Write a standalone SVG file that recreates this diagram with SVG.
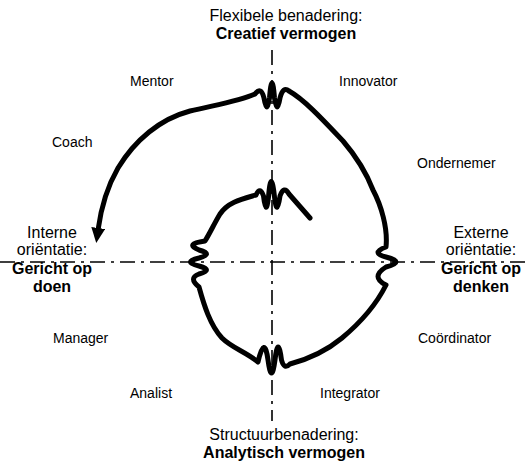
<svg xmlns="http://www.w3.org/2000/svg" width="531" height="464" viewBox="0 0 531 464">
<style>
text{font-family:"Liberation Sans",Arial,sans-serif;fill:#000}
.ax{font-size:16px;text-anchor:middle}
.b{font-weight:bold}
.role{font-size:14px}
.axis{stroke:#000;stroke-width:1.6;stroke-dasharray:15,6,3,6;fill:none}
.spiral{stroke:#000;stroke-width:5;fill:none;stroke-linejoin:round;stroke-linecap:round}
</style>
<defs>
<marker id="arrow" viewBox="0 0 15 14" refX="2" refY="7" markerWidth="15" markerHeight="14" markerUnits="userSpaceOnUse" orient="auto">
<path d="M0,0 L15,7 L0,14 z" fill="#000"/>
</marker>
</defs>
<rect width="531" height="464" fill="#fff"/>
<g id="connectors">
<line class="axis" x1="272" y1="50" x2="272" y2="421"/>
<line class="axis" x1="0" y1="262" x2="531" y2="262"/>
<path class="spiral" marker-end="url(#arrow)" d="M 310,218 L 289,194 Q 284,185 280,196 Q 277,218 274.5,197 Q 271,166 268.5,197 Q 266,218 263.5,196 Q 260,186 256,195 C 242,199 228,202 220,214 C 214,224 210,233 205,241 Q 184,244 199,250 Q 214,254 199,258 Q 182,262 199,266 Q 214,270 199,274 Q 188,278 199,287 C 204,305 210,325 222,338 C 232,348 246,352 258,362 Q 264.5,334 268,360 Q 271.5,386 275,360 Q 278,334 281.5,360 Q 284,370 290,364 C 305,360 325,352 342,338 C 360,323 376,305 386,285 Q 370,277 386,267 Q 406,262 386,257 Q 370,253 386,247 C 388,228 381,205 373,190 C 366,172 355,155 343,141 C 325,122 305,100 289,91 Q 283,86 280,98 Q 277,116 274.5,98 Q 272,68 269.5,98 Q 267,116 264,98 Q 261,86 255,94 C 240,101 215,105 190,111 C 160,119 135,140 118,168 C 107,187 101,208 98,230"/>
</g>
<g id="top-label">
<text class="ax" x="286" y="21">Flexibele benadering:</text>
<text class="ax b" x="286" y="39">Creatief vermogen</text>
</g>
<g id="bottom-label">
<text class="ax" x="284" y="440">Structuurbenadering:</text>
<text class="ax b" x="284" y="458">Analytisch vermogen</text>
</g>
<g id="left-label">
<text class="ax" x="52" y="238">Interne</text>
<text class="ax" x="52" y="255">oriëntatie:</text>
<text class="ax b" x="52" y="274">Gericht op</text>
<text class="ax b" x="52" y="292">doen</text>
</g>
<g id="right-label">
<text class="ax" x="481" y="238">Externe</text>
<text class="ax" x="481" y="255">oriëntatie:</text>
<text class="ax b" x="481" y="274">Gericht op</text>
<text class="ax b" x="481" y="292">denken</text>
</g>
<g id="mentor"><text class="role" x="130" y="86">Mentor</text></g>
<g id="innovator"><text class="role" x="339" y="86">Innovator</text></g>
<g id="coach"><text class="role" x="52" y="147">Coach</text></g>
<g id="ondernemer"><text class="role" x="417" y="168">Ondernemer</text></g>
<g id="manager"><text class="role" x="53" y="343">Manager</text></g>
<g id="coordinator"><text class="role" x="418" y="343">Coördinator</text></g>
<g id="analist"><text class="role" x="130" y="398">Analist</text></g>
<g id="integrator"><text class="role" x="320" y="398">Integrator</text></g>
</svg>
